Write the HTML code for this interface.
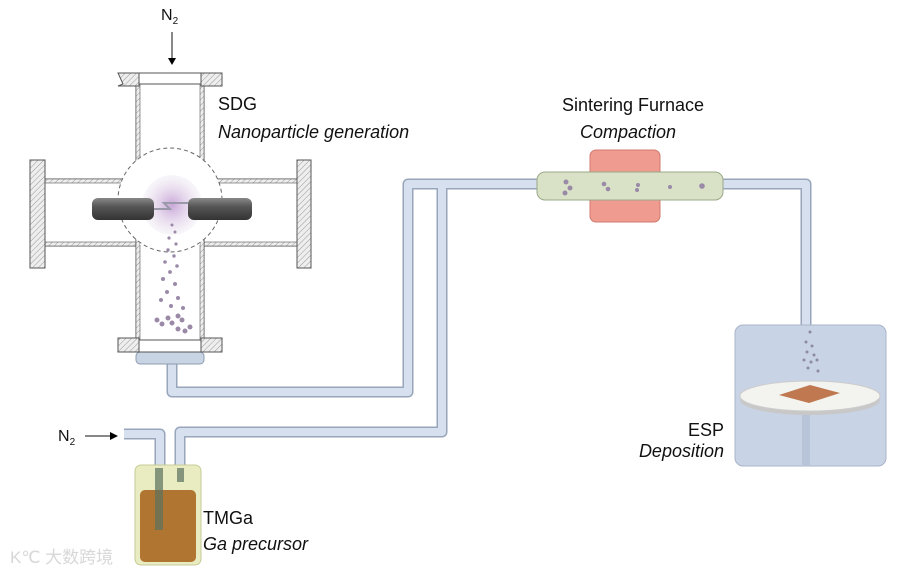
<!DOCTYPE html>
<html><head><meta charset="utf-8"><style>body{margin:0;background:#fff}svg{display:block}text{font-family:"Liberation Sans",sans-serif;fill:#111}</style></head><body>
<svg width="919" height="575" viewBox="0 0 919 575" xmlns="http://www.w3.org/2000/svg">
<defs>
<pattern id="h" width="4" height="4" patternUnits="userSpaceOnUse" patternTransform="rotate(45)"><rect width="4" height="4" fill="#eee"/><line x1="0" y1="0" x2="0" y2="4" stroke="#999" stroke-width="1"/></pattern>
<radialGradient id="glow"><stop offset="0" stop-color="#c9a6d8"/><stop offset="1" stop-color="#e9e2ee" stop-opacity="0.3"/></radialGradient>
<linearGradient id="rod" x1="0" y1="0" x2="0" y2="1"><stop offset="0" stop-color="#888"/><stop offset="0.4" stop-color="#555"/><stop offset="1" stop-color="#333"/></linearGradient>
</defs>
<g fill="none" stroke-linejoin="round">
<g stroke="#97a6bb" stroke-width="11">
<path d="M172 360 V392 H408 V184 H540"/>
<path d="M180 470 V432 H442 V184"/>
<path d="M722 184 H806 V325"/>
<path d="M160 470 V434 H124"/>
</g>
<g stroke="#d6e0ee" stroke-width="8">
<path d="M172 360 V392 H408 V184 H540"/>
<path d="M180 470 V432 H442 V184"/>
<path d="M722 184 H806 V325"/>
<path d="M160 470 V434 H124"/>
</g>
</g>
<rect x="136" y="352" width="68" height="12" rx="4" fill="#c8d4e4" stroke="#8e9cb0"/>
<rect x="43" y="179" width="258" height="67" fill="#fff" stroke="#555"/>
<rect x="43" y="179" width="258" height="4" fill="url(#h)" stroke="#555" stroke-width="0.6"/>
<rect x="43" y="242" width="258" height="4" fill="url(#h)" stroke="#555" stroke-width="0.6"/>
<rect x="136" y="84" width="68" height="256" fill="#fff" stroke="#555"/>
<rect x="136" y="84" width="4" height="256" fill="url(#h)" stroke="#555" stroke-width="0.6"/>
<rect x="200" y="84" width="4" height="256" fill="url(#h)" stroke="#555" stroke-width="0.6"/>
<rect x="140" y="180" width="60" height="65" fill="#fff"/>
<path d="M118 73 H139 V86 H118 L123 84 Z" fill="url(#h)" stroke="#555"/>
<path d="M201 73 H222 V86 L201 86 Z" fill="url(#h)" stroke="#555"/>
<path d="M118 338 H139 V352 H118 Z" fill="url(#h)" stroke="#555"/>
<path d="M201 338 H222 V352 H201 Z" fill="url(#h)" stroke="#555"/>
<line x1="139" y1="73" x2="201" y2="73" stroke="#555"/><line x1="139" y1="352" x2="201" y2="352" stroke="#555"/>
<path d="M30 160 H45 V268 H30 Z" fill="url(#h)" stroke="#555"/>
<path d="M297 160 H311 V268 H297 Z" fill="url(#h)" stroke="#555"/>
<circle cx="170" cy="200" r="52" fill="#fff" stroke="#666" stroke-dasharray="4,3"/>
<circle cx="172" cy="205" r="30" fill="url(#glow)"/>
<rect x="92" y="198" width="62" height="22" rx="6" fill="url(#rod)"/>
<rect x="188" y="198" width="64" height="22" rx="6" fill="url(#rod)"/>
<path d="M154 209 H170 L164 203 H188" fill="none" stroke="#99a" stroke-width="2"/>
<g fill="#9a8aa8">
<circle cx="172" cy="225" r="1.5"/><circle cx="175" cy="232" r="1.5"/><circle cx="169" cy="238" r="1.6"/><circle cx="176" cy="244" r="1.6"/><circle cx="168" cy="250" r="1.7"/><circle cx="174" cy="256" r="1.7"/><circle cx="165" cy="262" r="1.8"/><circle cx="177" cy="266" r="1.8"/><circle cx="170" cy="272" r="1.9"/><circle cx="163" cy="279" r="2"/><circle cx="175" cy="284" r="2"/><circle cx="167" cy="292" r="2"/><circle cx="178" cy="298" r="2"/><circle cx="161" cy="300" r="2"/><circle cx="171" cy="306" r="2"/><circle cx="183" cy="308" r="2"/>
<circle cx="157" cy="320" r="2.5"/><circle cx="162" cy="324" r="2.5"/><circle cx="168" cy="318" r="2.5"/><circle cx="172" cy="323" r="2.5"/><circle cx="178" cy="316" r="2.5"/><circle cx="182" cy="320" r="2.5"/><circle cx="178" cy="329" r="2.5"/><circle cx="185" cy="331" r="2.5"/><circle cx="190" cy="327" r="2.5"/>
</g>
<text x="161" y="20" font-size="16">N<tspan font-size="10" dy="4">2</tspan></text>
<line x1="172" y1="32" x2="172" y2="60" stroke="#111"/><path d="M168 58 L172 65 L176 58 Z"/>
<text x="218" y="110" font-size="18">SDG</text>
<text x="218" y="138" font-size="18" font-style="italic">Nanoparticle generation</text>
<rect x="590" y="150" width="70" height="72" rx="6" fill="#ef9b90" stroke="#d07a70"/>
<rect x="537" y="172" width="186" height="28" rx="8" fill="#d9e2c6" stroke="#9aa888"/>
<g fill="#9a8aa8"><circle cx="566" cy="182" r="2.5"/><circle cx="570" cy="188" r="2.5"/><circle cx="565" cy="193" r="2.5"/><circle cx="604" cy="184" r="2.3"/><circle cx="608" cy="189" r="2.3"/><circle cx="638" cy="185" r="2"/><circle cx="637" cy="190" r="2"/><circle cx="670" cy="187" r="2"/><circle cx="702" cy="186" r="2.8"/></g>
<text x="633" y="111" font-size="18" text-anchor="middle">Sintering Furnace</text>
<text x="628" y="138" font-size="18" font-style="italic" text-anchor="middle">Compaction</text>
<rect x="735" y="325" width="151" height="141" rx="8" fill="#c9d3e6" stroke="#aab4c8"/>
<rect x="802" y="410" width="8" height="55" fill="#b8c4d8"/>
<g fill="#8c8c9c"><circle cx="810" cy="332" r="1.5"/><circle cx="806" cy="342" r="1.5"/><circle cx="812" cy="346" r="1.5"/><circle cx="807" cy="352" r="1.5"/><circle cx="814" cy="355" r="1.5"/><circle cx="804" cy="360" r="1.5"/><circle cx="811" cy="362" r="1.5"/><circle cx="817" cy="360" r="1.5"/><circle cx="808" cy="368" r="1.5"/><circle cx="818" cy="371" r="1.5"/></g>
<ellipse cx="810" cy="400" rx="70" ry="15" fill="#c8c8c8"/>
<ellipse cx="810" cy="396" rx="70" ry="15" fill="#f3f3ef" stroke="#ccc"/>
<path d="M779 395 L810 385 L840 393 L809 403 Z" fill="#c07850"/>
<text x="724" y="436" font-size="18" text-anchor="end">ESP</text>
<text x="724" y="457" font-size="18" font-style="italic" text-anchor="end">Deposition</text>
<rect x="135" y="465" width="66" height="100" rx="6" fill="#e8ecc0" stroke="#c8cc98"/>
<rect x="140" y="490" width="56" height="72" rx="5" fill="#b07530"/>
<rect x="155" y="468" width="8" height="62" fill="#5a7060" opacity="0.7"/>
<rect x="177" y="468" width="7" height="14" fill="#5a7060" opacity="0.7"/>
<text x="58" y="441" font-size="16">N<tspan font-size="10" dy="4">2</tspan></text>
<line x1="85" y1="436" x2="112" y2="436" stroke="#111"/><path d="M110 432 L118 436 L110 440 Z"/>
<text x="203" y="524" font-size="18">TMGa</text>
<text x="203" y="550" font-size="18" font-style="italic">Ga precursor</text>
<text x="10" y="563" font-size="17" style="fill:#d8d8d8">K℃ 大数跨境</text>
</svg>
</body></html>
